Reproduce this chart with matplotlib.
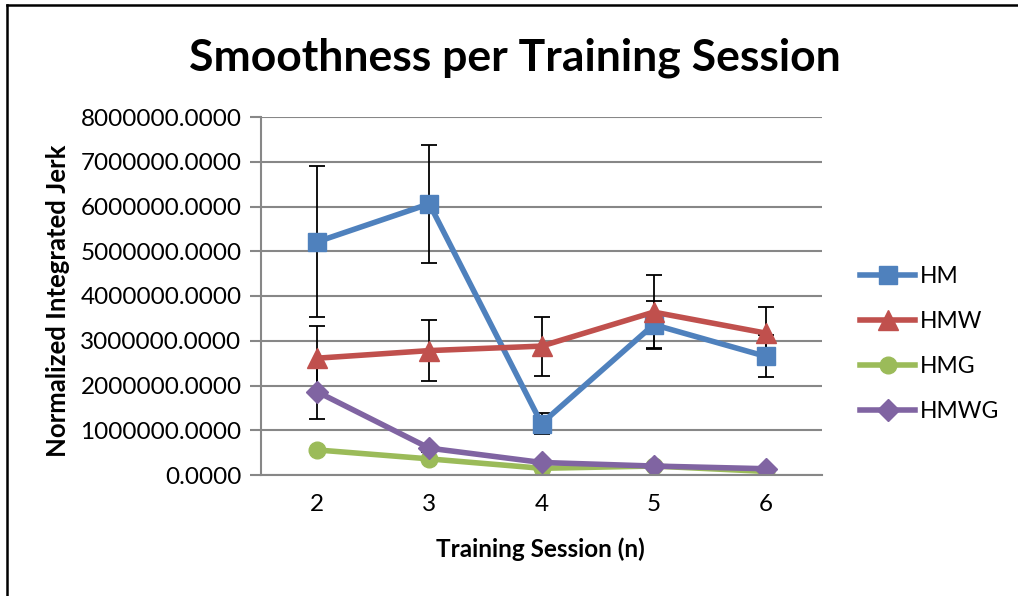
import matplotlib
matplotlib.use("Agg")
import matplotlib.pyplot as plt
from matplotlib.ticker import FormatStrFormatter, MultipleLocator
from matplotlib.lines import Line2D

plt.rcParams['font.family'] = ['Lato', 'DejaVu Sans']

sessions = [2, 3, 4, 5, 6]

hm = [5210000, 6060000, 1150000, 3360000, 2650000]
hm_err = [1690000, 1320000, 230000, 520000, 470000]

hmw = [2610000, 2780000, 2880000, 3640000, 3170000]
hmw_err = [720000, 690000, 660000, 830000, 580000]

hmg = [560000, 360000, 150000, 200000, 80000]

hmwg = [1860000, 600000, 280000, 200000, 140000]
hmwg_err = [600000, 80000, 50000, 40000, 30000]

W, H = 1018, 596
fig = plt.figure(figsize=(W / 100, H / 100), dpi=100)
ax = fig.add_axes([261 / W, (H - 475) / H, (822 - 261) / W, (475 - 117) / H])

# chart border: only left and top edges fall inside the picture
fig.add_artist(Line2D([7 / W, 7 / W], [0, 1 - 5 / H], transform=fig.transFigure,
                      color='black', lw=1.8))
fig.add_artist(Line2D([7 / W, 1], [1 - 5 / H, 1 - 5 / H], transform=fig.transFigure,
                      color='black', lw=1.8))

lw = 4
ekw = dict(ecolor='black', elinewidth=1.3, capsize=6, capthick=1.3)

styles = [('HM', '#4F81BD', 's', 13),
          ('HMW', '#C0504D', '^', 14),
          ('HMG', '#9BBB59', 'o', 12),
          ('HMWG', '#8064A2', 'D', 11)]

ax.errorbar(sessions, hm, yerr=hm_err, color=styles[0][1], lw=lw,
            marker=styles[0][2], markersize=styles[0][3], **ekw)
ax.errorbar(sessions, hmw, yerr=hmw_err, color=styles[1][1], lw=lw,
            marker=styles[1][2], markersize=styles[1][3], **ekw)
ax.plot(sessions, hmg, color=styles[2][1], lw=lw,
        marker=styles[2][2], markersize=styles[2][3])
ax.errorbar(sessions, hmwg, yerr=hmwg_err, color=styles[3][1], lw=lw,
            marker=styles[3][2], markersize=styles[3][3], **ekw)

ax.set_xlim(1.5, 6.5)
ax.set_ylim(0, 8000000)
ax.yaxis.set_major_locator(MultipleLocator(1000000))
ax.yaxis.set_major_formatter(FormatStrFormatter('%.4f'))
ax.set_xticks(sessions)
ax.grid(axis='y', color='#878787', linewidth=1.5)
ax.set_axisbelow(True)
for s in ['top', 'right']:
    ax.spines[s].set_visible(False)
for s in ['left', 'bottom']:
    ax.spines[s].set_color('#878787')
    ax.spines[s].set_linewidth(1.5)
ax.tick_params(axis='y', length=8, width=1.5, color='#878787', labelsize=17.5, pad=6)
ax.tick_params(axis='x', length=0, labelsize=17.5, pad=14)

fig.text(515 / W, 1 - 58 / H, 'Smoothness per Training Session', ha='center',
         va='center', fontsize=32, fontweight='bold')
fig.text(58 / W, 1 - 301 / H, 'Normalized Integrated Jerk', ha='center',
         va='center', rotation=90, fontsize=18.5, fontweight='bold')
fig.text(540 / W, 1 - 549 / H, 'Training Session (n)', ha='center',
         va='center', fontsize=17.5, fontweight='bold')

handles = [Line2D([], [], color=c, lw=lw, marker=m, markersize=ms)
           for _, c, m, ms in styles]
labels = [name for name, _, _, _ in styles]
ax.legend(handles, labels, loc='center left',
          bbox_to_anchor=(860 / W, 1 - 344 / H),
          bbox_transform=fig.transFigure, frameon=False, fontsize=16.5,
          handlelength=2.4, handletextpad=0.2, labelspacing=1.05,
          borderpad=0, borderaxespad=0)

fig.savefig('out.png', dpi=100)
